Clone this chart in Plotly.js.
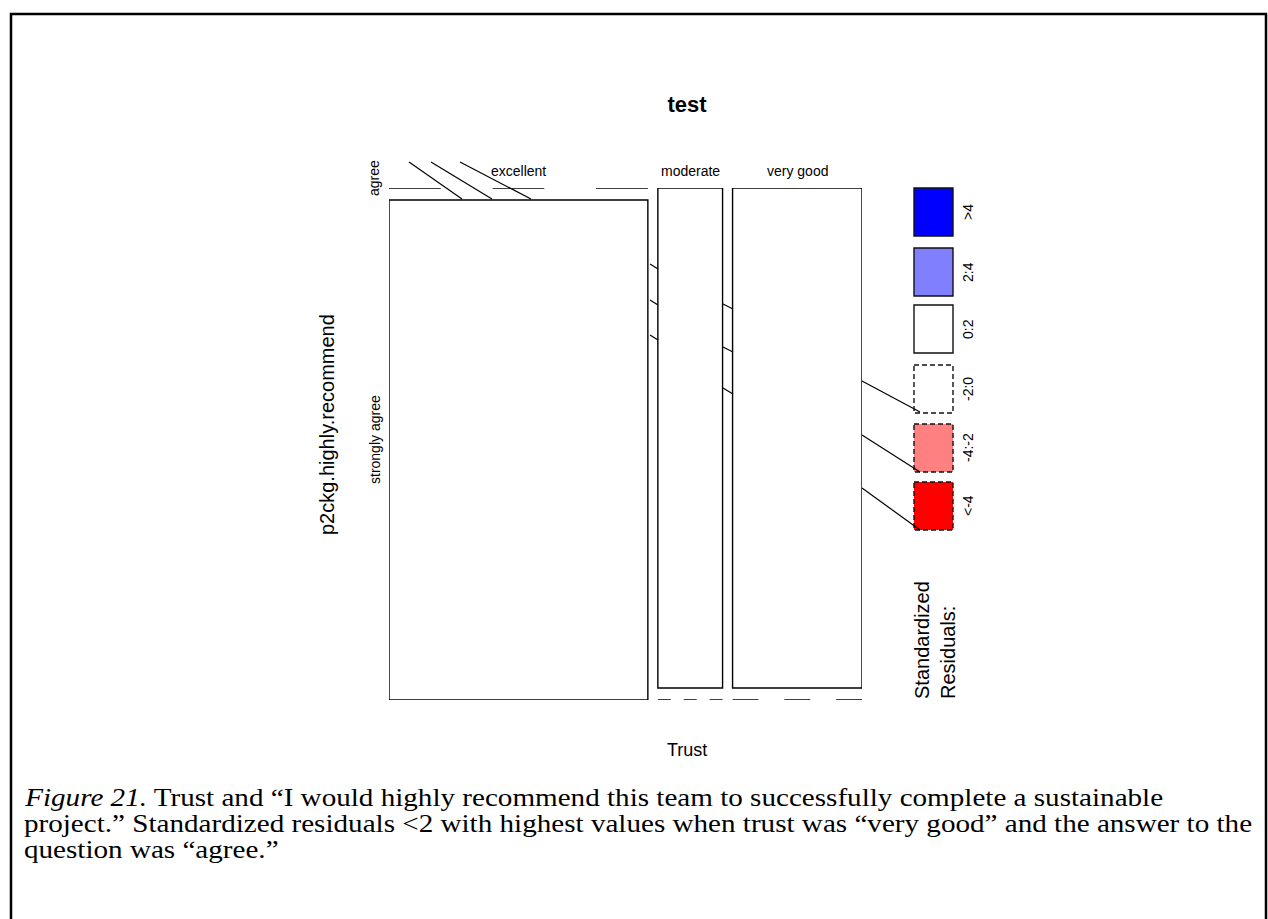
<!DOCTYPE html>
<html>
<head>
<meta charset="utf-8">
<script src="https://cdn.plot.ly/plotly-3.0.1.min.js"></script>
<style>html,body{margin:0;padding:0;background:#fff;}#chart{width:1268px;height:919px;}</style>
</head>
<body>
<div id="chart"></div>
<script>
// ---- data ----
const trustLevels = ['excellent', 'moderate', 'very good'];
const recommendLevels = ['agree', 'strongly agree'];
const countsAgree = [0, 2, 4];
const countsStronglyAgree = [8, 0, 0];
const legendLabels = ['>4', '2:4', '0:2', '-2:0', '-4:-2', '<-4'];
const legendFills = ['#0000FF', '#8080FF', '#FFFFFF', '#FFFFFF', '#FF8080', '#FF0000'];
const legendDashed = [false, false, false, true, true, true];
const titleText = 'test';
const xTitle = 'Trust';
const yTitle = 'p2ckg.highly.recommend';
const legendTitle = 'Standardized<br>Residuals:';
const captionLines = [
  '<i>Figure 21.</i> Trust and \u201cI would highly recommend this team to successfully complete a sustainable',
  'project.\u201d Standardized residuals &lt;2 with highest values when trust was \u201cvery good\u201d and the answer to the',
  'question was \u201cagree.\u201d'
];

// ---- layout geometry ----
const W = 1268, H = 919;
const X0 = 389, X1 = 862, Y0 = 188, Y1 = 700;
const GAPX = 10, GAPY = 12;
const px = v => v / W;
const py = v => 1 - v / H;

const nCol = trustLevels.length;
const colTotals = trustLevels.map((_, i) => countsAgree[i] + countsStronglyAgree[i]);
const total = colTotals.reduce((a, b) => a + b, 0);
const pxPerUnit = ((X1 - X0) - GAPX * (nCol - 1)) / total;
const gx = GAPX / pxPerUnit;
const gy = GAPY / ((Y1 - Y0) - GAPY);

const shapes = [];
const annotations = [];
const FONT = 'Liberation Sans, Arial, sans-serif';
const LW = 1.4;

let xs = 0;
trustLevels.forEach((lvl, i) => {
  const w = colTotals[i];
  const p = countsAgree[i] / w;
  const widthPx = w * pxPerUnit;
  const cells = [
    {n: countsAgree[i], y0: 0, y1: p},
    {n: countsStronglyAgree[i], y0: p + gy, y1: 1 + gy}
  ];
  cells.forEach(c => {
    if (c.n === 0) {
      const d = (widthPx / 5).toFixed(2);
      shapes.push({type: 'line', xref: 'x', yref: 'y', x0: xs, x1: xs + w, y0: c.y0, y1: c.y0,
        line: {color: '#000', width: LW, dash: d + 'px,' + d + 'px'}});
    } else {
      shapes.push({type: 'rect', xref: 'x', yref: 'y', x0: xs, x1: xs + w, y0: c.y0, y1: c.y1,
        fillcolor: '#FFFFFF', line: {color: '#000', width: LW}});
    }
  });
  annotations.push({text: lvl, xref: 'x', yref: 'paper', x: xs + w / 2, y: py(181), xanchor: 'center', yanchor: 'bottom',
    showarrow: false, font: {family: FONT, size: 14, color: '#000'}});
  xs += w + gx;
});

// row labels
annotations.push({text: recommendLevels[0], xref: 'paper', yref: 'paper', x: px(374), y: py(178), textangle: -90,
  xanchor: 'center', yanchor: 'middle', showarrow: false, font: {family: FONT, size: 14, color: '#000'}});
annotations.push({text: recommendLevels[1], xref: 'paper', yref: 'paper', x: px(375), y: py(440), textangle: -90,
  xanchor: 'center', yanchor: 'middle', showarrow: false, font: {family: FONT, size: 14, color: '#000'}});

// axis titles
annotations.push({text: yTitle, xref: 'paper', yref: 'paper', x: px(327), y: py(425), textangle: -90,
  xanchor: 'center', yanchor: 'middle', showarrow: false, font: {family: FONT, size: 20, color: '#000'}});
annotations.push({text: xTitle, xref: 'paper', yref: 'paper', x: px(687), y: py(750),
  xanchor: 'center', yanchor: 'middle', showarrow: false, font: {family: FONT, size: 18, color: '#000'}});

// residual legend
const LB = [188, 248, 305, 365, 424, 482];
legendLabels.forEach((lab, i) => {
  shapes.push({type: 'rect', xref: 'paper', yref: 'paper', x0: px(914), x1: px(953), y0: py(LB[i]), y1: py(LB[i] + 48),
    fillcolor: legendFills[i], line: {color: '#111', width: LW, dash: legendDashed[i] ? '5px,3px' : 'solid'}});
  annotations.push({text: lab, xref: 'paper', yref: 'paper', x: px(968), y: py(LB[i] + 24), textangle: -90,
    xanchor: 'center', yanchor: 'middle', showarrow: false, font: {family: FONT, size: 14, color: '#000'}});
});
annotations.push({text: legendTitle, xref: 'paper', yref: 'paper', x: px(935), y: py(701), textangle: -90, align: 'left',
  xanchor: 'center', yanchor: 'bottom', showarrow: false, font: {family: FONT, size: 20, color: '#000'}});

// decorative connector strokes seen in the original export
const strokes = [
  [409, 162, 462, 199], [431, 162, 492, 199], [460, 162, 531, 199],
  [650, 264, 658, 269], [650, 300, 658, 305], [650, 335, 658, 340],
  [723, 304, 733, 309], [723, 347, 733, 352], [723, 388, 733, 394],
  [862, 381, 920, 412], [862, 435, 920, 472], [862, 488, 920, 530]
];
strokes.forEach(s => shapes.push({type: 'line', xref: 'paper', yref: 'paper', x0: px(s[0]), y0: py(s[1]), x1: px(s[2]), y1: py(s[3]),
  line: {color: '#000', width: 1.2}}));

// page frame
shapes.push({type: 'path', xref: 'paper', yref: 'paper',
  path: `M ${px(11)} ${py(919)} L ${px(11)} ${py(14)} L ${px(1266)} ${py(14)} L ${px(1266)} ${py(919)}`,
  line: {color: '#000', width: 2.5}});

// caption
const CAP_Y = [797, 823, 849];
const CAP_STRETCH = 1.165;
const capStart = annotations.length;
captionLines.forEach((t, i) => annotations.push({text: t, xref: 'paper', yref: 'paper', x: px(22), y: py(CAP_Y[i]),
  xanchor: 'left', yanchor: 'middle', align: 'left', showarrow: false,
  font: {family: 'Liberation Serif, Times New Roman, serif', size: 25, color: '#000'}}));

const layout = {
  width: W, height: H,
  margin: {l: 0, r: 0, t: 0, b: 0},
  paper_bgcolor: '#fff', plot_bgcolor: 'rgba(0,0,0,0)',
  showlegend: false,
  title: {text: '<b>' + titleText + '</b>', x: px(687), y: py(104), xref: 'paper', yref: 'paper',
    xanchor: 'center', yanchor: 'middle', font: {family: FONT, size: 22, color: '#000'}},
  xaxis: {domain: [px(X0), px(X1)], range: [0, total + gx * (nCol - 1)], visible: false, fixedrange: true},
  yaxis: {domain: [py(Y1), py(Y0)], range: [1 + gy, 0], visible: false, fixedrange: true},
  shapes: shapes,
  annotations: annotations
};

Plotly.newPlot('chart', [{x: [], y: [], type: 'scatter', mode: 'markers', hoverinfo: 'skip'}], layout,
  {staticPlot: true, displayModeBar: false}).then(gd => {
  // the original caption is horizontally stretched; widen the caption text to match
  for (let k = capStart; k < capStart + captionLines.length; k++) {
    const g = gd.querySelector('.annotation[data-index="' + k + '"] text.annotation-text');
    if (!g) continue;
    const bb = g.getBBox();
    const L = bb.x;
    g.setAttribute('transform', `translate(${L},0) scale(${CAP_STRETCH},1) translate(${-L},0)`);
  }
});
</script>
</body>
</html>
